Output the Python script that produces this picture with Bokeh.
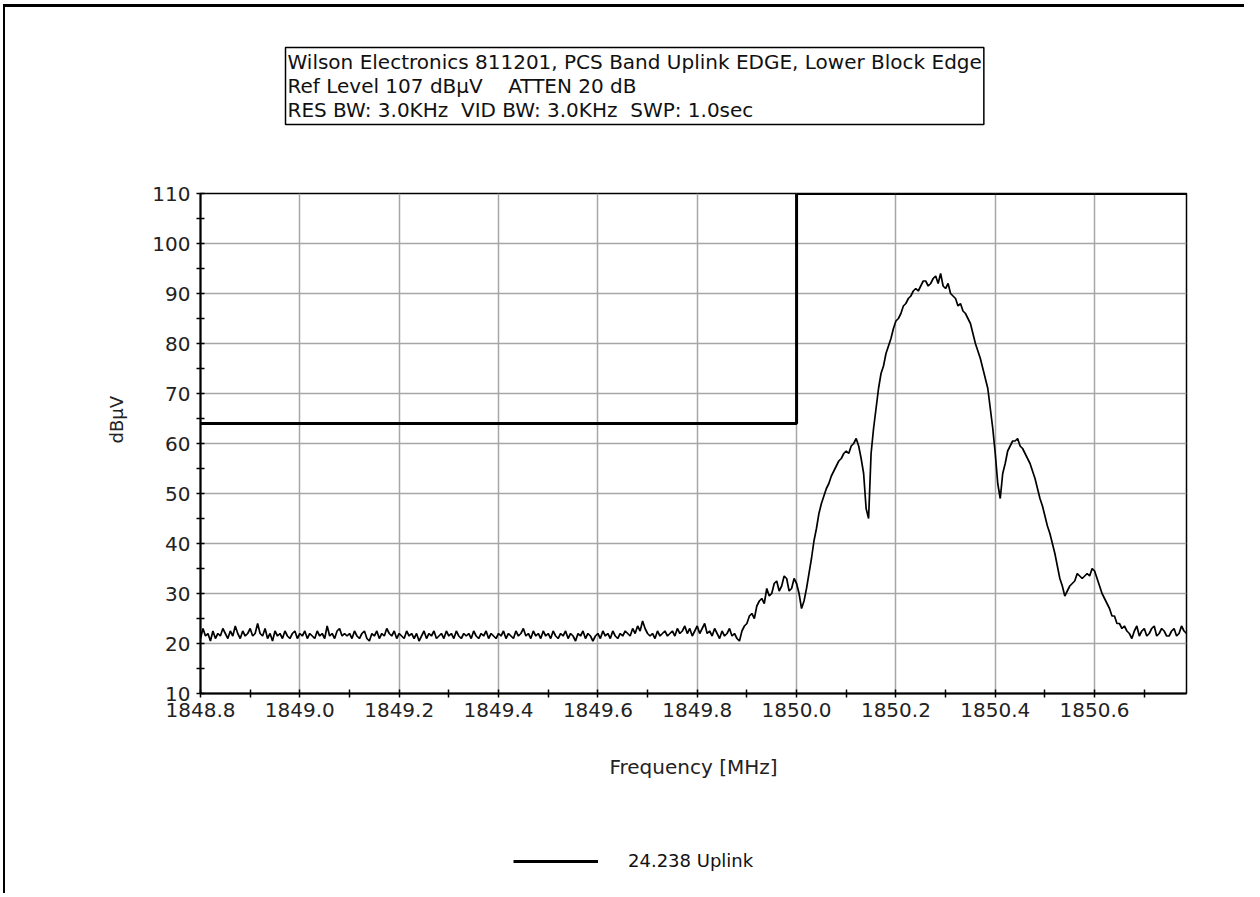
from bokeh.plotting import figure
from bokeh.layouts import column
from bokeh.models import Title, Legend, LegendItem, FixedTicker, Range1d
from bokeh.embed import file_html
from bokeh.resources import INLINE

# ---------------- data ----------------
NB = "\u00a0"
header_lines = [
    "Wilson Electronics 811201, PCS Band Uplink EDGE, Lower Block Edge",
    "Ref Level 107 dB\u00b5V" + NB * 4 + "ATTEN 20 dB",
    "RES BW: 3.0KHz" + NB * 2 + "VID BW: 3.0KHz" + NB * 2 + "SWP: 1.0sec",
]
x_label = "Frequency [MHz]"
y_label = "dB\u00b5V"
series_name = "24.238 Uplink"

x_ticks = [1848.8, 1849.0, 1849.2, 1849.4, 1849.6, 1849.8, 1850.0, 1850.2, 1850.4, 1850.6]
x_tick_labels = ["1848.8", "1849.0", "1849.2", "1849.4", "1849.6", "1849.8", "1850.0", "1850.2", "1850.4", "1850.6"]
x_minor = [1848.9, 1849.1, 1849.3, 1849.5, 1849.7, 1849.9, 1850.1, 1850.3, 1850.5, 1850.7]
y_ticks = [10, 20, 30, 40, 50, 60, 70, 80, 90, 100, 110]
y_minor = [15, 25, 35, 45, 55, 65, 75, 85, 95, 105]

freq_start = 1848.800
freq_step = 0.005
freq_end = 1850.785

# measured trace (dBuV), one value per sweep point
level_floor = [
    21, 23, 21.5, 22, 20.5, 22.5, 21, 22, 21.5, 23, 22, 21, 22.5, 21.5, 23.5, 22, 21, 22.5, 21.5, 22,
    23, 21.5, 22, 24, 22, 21.5, 23, 21, 22, 20.5, 22.5, 21.5, 22, 21, 22.5, 21.5, 21, 22, 22.5, 21,
    22, 21.5, 22.5, 21, 22, 21.5, 21, 22.5, 21.5, 22, 21, 23.5, 21.5, 22, 21, 22.5, 23, 21.5, 22, 21.5,
    22, 21, 22.5, 21.5, 21, 22, 22.5, 21, 20.5, 22, 21.5, 22.5, 21, 22, 21.5, 23, 22, 21.5, 22.5, 21,
    22, 21.5, 21, 22.5, 21.5, 22, 21, 22, 20.5, 21.5, 22.5, 21, 22, 21.5, 22.5, 21, 21.5, 22, 21, 22.5,
    21.5, 22, 21, 22.5, 21.5, 21, 22, 21.5, 22, 21, 22.5, 21.5, 21, 22, 21.5, 22.5, 21, 22, 21.5, 21,
    22, 21.5, 22.5, 21, 22, 21.5, 21, 22.5, 21.5, 22, 23, 21.5, 22, 21, 22.5, 21.5, 22, 21, 22.5, 21.5,
    22, 21, 22.5, 21.5, 21, 22, 21.5, 22.5, 21, 22, 21.5, 20.5, 22, 21.5, 22.5, 21, 22, 21.5, 20.5, 21.5,
    22, 21, 22.5, 21.5, 22, 21, 22.5, 21.5, 21, 22, 21.5, 22.5, 22, 21.5, 23, 22, 23.5, 22.5, 24.5, 23,
    22, 21.5, 22, 21, 22.5, 21.5, 22, 22.5, 21.5, 22, 22.5, 21.5, 23, 22, 22.5, 23.5, 22, 23, 21.5, 22.5,
    23.5, 22, 23, 24, 22, 22.5, 21.5, 23, 22, 21, 22.5, 21.5,
]
level_signal = [
    22, 23, 21.5, 22, 21, 20.5, 22.5, 23.5, 24, 25.5, 26, 25, 27.5, 28.5, 29, 28, 31, 29.5, 30, 32,
    32.5, 30.5, 31.5, 33.5, 33, 30.5, 31, 33,
    32, 30, 27, 28.5, 31, 34, 37, 40.5, 43, 46, 48, 49.5, 51, 52, 53.5, 54.5, 55.5, 56.5, 57, 58,
    58.5, 58, 59.5, 60, 61, 59.5, 57, 54, 47, 45, 58, 63, 67, 71, 74, 75.5, 78, 79.5, 81, 83,
    84.5, 85, 86, 87.5, 88, 89, 89.5, 90.5, 91, 90.5, 91.5, 92.5, 92.5, 91.5, 92, 93, 93.5, 92, 94, 91.5,
    91, 92, 90, 89.5, 89, 87.5, 88, 86.5, 86, 85, 84, 82, 80, 78.5, 77, 75, 73, 71, 67, 63,
    58, 52, 49, 54, 56, 58.5, 59.5, 60.5, 60.5, 61, 59.5, 59, 58, 57, 56, 54.5, 53, 51, 49, 47.5,
    45.5, 43.5, 42, 40, 38, 35.5, 33, 31.5, 29.5, 30.5, 31.5, 32, 32.5, 34, 33.5, 33, 33.5, 34, 33.5, 35,
    34.5, 33, 31.5, 30, 29, 28, 27, 25.5, 25.5, 24, 24, 23, 23.5, 22.5, 22, 21, 22.5, 23.5, 21.5, 22.5,
    23, 21.5, 22, 23, 23.5, 21.5, 22, 23, 22.5, 21.5, 21.5, 22.5, 23, 21.5, 22, 23.5, 22.5, 22,
]
level = level_floor + level_signal
freq = [round(freq_start + freq_step * i, 4) for i in range(len(level))]

# limit mask
mask_freq = [1848.8, 1850.0, 1850.0, 1850.785]
mask_level = [64, 64, 110, 110]

# ---------------- main figure ----------------
FONT = "DejaVu Sans"
FS = "20px"

p = figure(
    output_backend="svg", toolbar_location=None,
    frame_width=986, frame_height=500,
    min_border_left=195, min_border_right=58, min_border_top=186, min_border_bottom=100,
    x_range=Range1d(freq_start, freq_end), y_range=Range1d(10, 110),
    background_fill_color="white", border_fill_color="white",
)
p.outline_line_color = "black"
p.outline_line_width = 1.5

# header box as the plot title (outermost), spacer title between it and the frame
p.title = Title(
    text="\n".join(header_lines), align="left", offset=85, standoff=10,
    text_font=FONT, text_font_size=FS, text_font_style="normal", text_color="#111111",
    text_line_height=1.02,
    border_line_color="black", border_line_width=1.5,
    background_fill_color="white", padding=2,
)
p.add_layout(Title(text=NB, text_font_size="10px", standoff=51), "above")

# axes
for ax in (p.xaxis[0], p.yaxis[0]):
    ax.axis_line_color = "black"
    ax.axis_line_width = 2
    ax.major_tick_line_color = "black"
    ax.major_tick_line_width = 1.5
    ax.minor_tick_line_color = "black"
    ax.minor_tick_line_width = 1.5
    ax.major_tick_in = 4
    ax.major_tick_out = 4
    ax.minor_tick_in = 4
    ax.minor_tick_out = 4
    ax.major_label_text_font = FONT
    ax.major_label_text_font_size = FS
    ax.major_label_text_color = "#222222"
    ax.axis_label_text_font = FONT
    ax.axis_label_text_font_size = FS
    ax.axis_label_text_font_style = "normal"
    ax.axis_label_text_color = "#222222"

p.xaxis.ticker = FixedTicker(ticks=x_ticks, minor_ticks=x_minor)
p.xaxis.major_label_overrides = dict(zip(x_ticks, x_tick_labels))
p.xaxis.axis_label = x_label
p.xaxis.major_label_standoff = 5
p.xaxis.axis_label_standoff = 35

p.yaxis.ticker = FixedTicker(ticks=y_ticks, minor_ticks=y_minor)
p.yaxis.major_label_standoff = 6

# y axis title in the left panel, shifted along the axis
p.add_layout(Title(
    text=y_label, align="left", offset=250, standoff=46,
    text_font=FONT, text_font_size="18px", text_font_style="normal", text_color="#222222",
), "left")

p.xgrid.ticker = FixedTicker(ticks=x_ticks)
p.ygrid.ticker = FixedTicker(ticks=y_ticks)
for g in (p.xgrid[0], p.ygrid[0]):
    g.grid_line_color = "#a6a6a6"
    g.grid_line_width = 1.5

# mask and trace
p.line(mask_freq, mask_level, line_color="black", line_width=3)
trace = p.line(freq, level, line_color="black", line_width=1.7)

# ---------------- legend strip below ----------------
p2 = figure(
    output_backend="svg", toolbar_location=None,
    width=1239, height=100, min_border=0,
    x_range=Range1d(0, 1), y_range=Range1d(0, 1),
    x_axis_type=None, y_axis_type=None,
    background_fill_color="white", border_fill_color="white",
)
p2.title_location = None
p2.outline_line_color = None
# legend key: same series, drawn outside this strip's ranges so only the key shows
key = p2.line(freq, level, line_color="black", line_width=3)
legend = Legend(
    items=[LegendItem(label=series_name, renderers=[key])],
    location=(313, 22),
    glyph_width=85, glyph_height=20, label_standoff=30,
    label_text_font=FONT, label_text_font_size="18px", label_text_color="#111111",
    padding=0, margin=0, border_line_color=None, background_fill_alpha=0,
)
p2.add_layout(legend, "center")

layout = column(
    p, p2, spacing=0,
    styles={"border-top": "3px solid black", "border-left": "2px solid black",
            "margin-top": "4px", "margin-left": "3px"},
)
open("out.html", "w").write(file_html(layout, INLINE))
